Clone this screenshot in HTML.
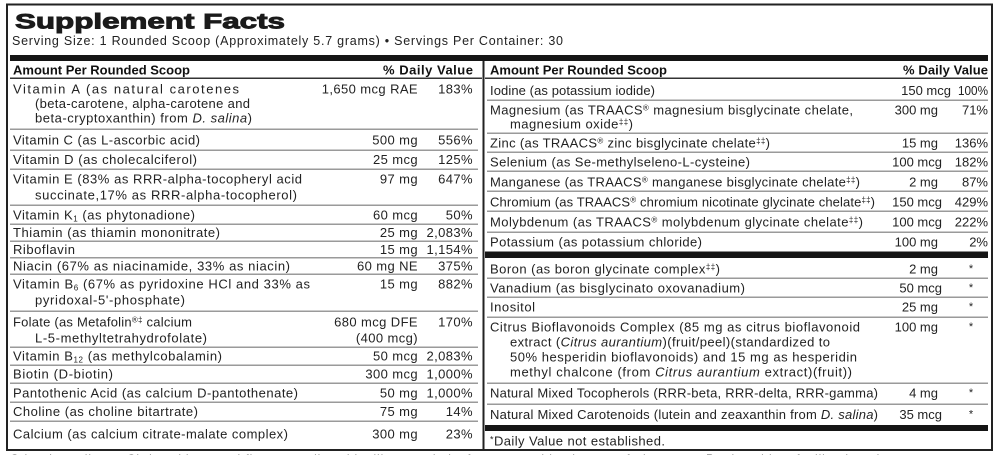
<!DOCTYPE html>
<html><head><meta charset="utf-8"><style>
html,body{margin:0;padding:0;background:#fff;width:1000px;height:455px;overflow:hidden}
svg{display:block}
text{font-family:"Liberation Sans",Arial,sans-serif;fill:#222;font-size:13px}
.b{font-weight:bold;fill:#111}
.n{letter-spacing:0.4px}
.r{letter-spacing:0px}
.st{font-size:11px}
</style></head><body>
<svg width="1000" height="455" viewBox="0 0 1000 455" xmlns="http://www.w3.org/2000/svg">
<rect x="0" y="0" width="1000" height="455" fill="#fff"/>
<!-- outer border -->
<rect x="7" y="4.5" width="985" height="445.5" fill="none" stroke="#222" stroke-width="2"/>
<!-- title -->
<text x="15" y="28.5" style="font-size:21px;font-weight:bold;fill:#1a1a1a" stroke="#1a1a1a" stroke-width="0.9" textLength="270" lengthAdjust="spacingAndGlyphs">Supplement Facts</text>
<text x="12" y="45" style="font-size:12.5px" textLength="551">Serving Size: 1 Rounded Scoop (Approximately 5.7 grams) • Servings Per Container: 30</text>
<!-- thick bar -->
<rect x="10" y="55" width="978" height="6" fill="#151515"/>
<!-- divider -->
<rect x="482.5" y="61" width="2" height="389" fill="#222"/>
<!-- header -->
<text class="b" x="13" y="74.5" textLength="177">Amount Per Rounded Scoop</text>
<text class="b" x="473" y="74.5" text-anchor="end" textLength="90">% Daily Value</text>
<text class="b" x="490" y="74.5" textLength="177">Amount Per Rounded Scoop</text>
<text class="b" x="988" y="74.5" text-anchor="end" textLength="85">% Daily Value</text>
<rect x="10" y="77.5" width="472" height="1.5" fill="#333"/>
<rect x="485" y="77.5" width="503" height="1.5" fill="#333"/>
<!-- left separators -->
<g fill="#9a9a9a">
<rect x="10" y="128.5" width="468" height="1.5"/>
<rect x="10" y="149.5" width="468" height="1.5"/>
<rect x="10" y="168.5" width="468" height="1.5"/>
<rect x="10" y="204.5" width="468" height="1.5"/>
<rect x="10" y="223.5" width="468" height="1.5"/>
<rect x="10" y="240.5" width="468" height="1.5"/>
<rect x="10" y="257" width="468" height="1.5"/>
<rect x="10" y="273.5" width="468" height="1.5"/>
<rect x="10" y="310.5" width="468" height="1.5"/>
<rect x="10" y="346.5" width="468" height="1.5"/>
<rect x="10" y="364.5" width="468" height="1.5"/>
<rect x="10" y="382.5" width="468" height="1.5"/>
<rect x="10" y="401.5" width="468" height="1.5"/>
<rect x="10" y="420.5" width="468" height="1.5"/>
<!-- right separators -->
<rect x="487" y="99.5" width="501" height="1.5"/>
<rect x="487" y="132.5" width="501" height="1.5"/>
<rect x="487" y="151.5" width="501" height="1.5"/>
<rect x="487" y="170.5" width="501" height="1.5"/>
<rect x="487" y="190.5" width="501" height="1.5"/>
<rect x="487" y="210.5" width="501" height="1.5"/>
<rect x="487" y="231.5" width="501" height="1.5"/>
<rect x="487" y="277.5" width="501" height="1.5"/>
<rect x="487" y="296.5" width="501" height="1.5"/>
<rect x="487" y="316.5" width="501" height="1.5"/>
<rect x="487" y="382.5" width="501" height="1.5"/>
<rect x="487" y="403.5" width="501" height="1.5"/>
</g>
<!-- right thick bars -->
<rect x="485" y="251.5" width="503" height="6.5" fill="#151515"/>
<rect x="485" y="425" width="503" height="6" fill="#151515"/>

<!-- LEFT COLUMN -->
<text x="13" y="93.5" textLength="226">Vitamin A (as natural carotenes</text>
<text class="n" x="418" y="93.5" text-anchor="end">1,650 mcg RAE</text>
<text class="n" x="473" y="93.5" text-anchor="end">183%</text>
<text x="35" y="108" textLength="215">(beta-carotene, alpha-carotene and</text>
<text x="35" y="122.5" textLength="217">beta-cryptoxanthin) from <tspan font-style="italic">D. salina</tspan>)</text>

<text x="13" y="144.5" textLength="187">Vitamin C (as L-ascorbic acid)</text>
<text class="n" x="418" y="144.5" text-anchor="end">500 mg</text>
<text class="n" x="473" y="144.5" text-anchor="end">556%</text>

<text x="13" y="164" textLength="184">Vitamin D (as cholecalciferol)</text>
<text class="n" x="418" y="164" text-anchor="end">25 mcg</text>
<text class="n" x="473" y="164" text-anchor="end">125%</text>

<text x="13" y="183.5" textLength="289">Vitamin E (83% as RRR-alpha-tocopheryl acid</text>
<text class="n" x="418" y="183.5" text-anchor="end">97 mg</text>
<text class="n" x="473" y="183.5" text-anchor="end">647%</text>
<text x="35" y="199.5" textLength="262">succinate,17% as RRR-alpha-tocopherol)</text>

<text x="13" y="219.5" textLength="182">Vitamin K<tspan font-size="8" dy="2">1</tspan><tspan dy="-2"> (as phytonadione)</tspan></text>
<text class="n" x="418" y="219.5" text-anchor="end">60 mcg</text>
<text class="n" x="473" y="219.5" text-anchor="end">50%</text>

<text x="13" y="237" textLength="207">Thiamin (as thiamin mononitrate)</text>
<text class="n" x="418" y="237" text-anchor="end">25 mg</text>
<text class="n" x="473" y="237" text-anchor="end">2,083%</text>

<text x="13" y="254" textLength="62">Riboflavin</text>
<text class="n" x="418" y="254" text-anchor="end">15 mg</text>
<text class="n" x="473" y="254" text-anchor="end">1,154%</text>

<text x="13" y="270.5" textLength="277">Niacin (67% as niacinamide, 33% as niacin)</text>
<text class="n" x="418" y="270.5" text-anchor="end">60 mg NE</text>
<text class="n" x="473" y="270.5" text-anchor="end">375%</text>

<text x="13" y="288.5" textLength="297">Vitamin B<tspan font-size="8" dy="2">6</tspan><tspan dy="-2"> (67% as pyridoxine HCl and 33% as</tspan></text>
<text class="n" x="418" y="288.5" text-anchor="end">15 mg</text>
<text class="n" x="473" y="288.5" text-anchor="end">882%</text>
<text x="35" y="304.5" textLength="150">pyridoxal-5'-phosphate)</text>

<text x="13" y="326.5" textLength="179">Folate (as Metafolin<tspan font-size="8" dy="-4">®‡</tspan><tspan dy="4"> calcium</tspan></text>
<text class="n" x="418" y="326.5" text-anchor="end">680 mcg DFE</text>
<text class="n" x="473" y="326.5" text-anchor="end">170%</text>
<text x="35" y="342.5" textLength="172">L-5-methyltetrahydrofolate)</text>
<text class="n" x="418" y="342.5" text-anchor="end">(400 mcg)</text>

<text x="13" y="360.5" textLength="209">Vitamin B<tspan font-size="8" dy="2">12</tspan><tspan dy="-2"> (as methylcobalamin)</tspan></text>
<text class="n" x="418" y="360.5" text-anchor="end">50 mcg</text>
<text class="n" x="473" y="360.5" text-anchor="end">2,083%</text>

<text x="13" y="378.5" textLength="100">Biotin (D-biotin)</text>
<text class="n" x="418" y="378.5" text-anchor="end">300 mcg</text>
<text class="n" x="473" y="378.5" text-anchor="end">1,000%</text>

<text x="13" y="397.5" textLength="285">Pantothenic Acid (as calcium D-pantothenate)</text>
<text class="n" x="418" y="397.5" text-anchor="end">50 mg</text>
<text class="n" x="473" y="397.5" text-anchor="end">1,000%</text>

<text x="13" y="416" textLength="185">Choline (as choline bitartrate)</text>
<text class="n" x="418" y="416" text-anchor="end">75 mg</text>
<text class="n" x="473" y="416" text-anchor="end">14%</text>

<text x="13" y="438.5" textLength="275">Calcium (as calcium citrate-malate complex)</text>
<text class="n" x="418" y="438.5" text-anchor="end">300 mg</text>
<text class="n" x="473" y="438.5" text-anchor="end">23%</text>

<!-- RIGHT COLUMN -->
<text x="490" y="95" textLength="165">Iodine (as potassium iodide)</text>
<text class="r" x="951" y="95" text-anchor="end">150 mcg</text>
<text class="r" x="958" y="95" textLength="30" lengthAdjust="spacingAndGlyphs">100%</text>

<text x="490" y="114.5" textLength="363">Magnesium (as TRAACS<tspan font-size="8" dy="-4">®</tspan><tspan dy="4"> magnesium bisglycinate chelate,</tspan></text>
<text x="510" y="128.5" textLength="123">magnesium oxide<tspan font-size="8" dy="-4">‡‡</tspan><tspan dy="4">)</tspan></text>
<text class="r" x="938" y="114.5" text-anchor="end">300 mg</text>
<text class="r" x="988" y="114.5" text-anchor="end">71%</text>

<text x="490" y="147.5" textLength="280">Zinc (as TRAACS<tspan font-size="8" dy="-4">®</tspan><tspan dy="4"> zinc bisglycinate chelate</tspan><tspan font-size="8" dy="-4">‡‡</tspan><tspan dy="4">)</tspan></text>
<text class="r" x="938" y="147.5" text-anchor="end">15 mg</text>
<text class="r" x="988" y="147.5" text-anchor="end">136%</text>

<text x="490" y="166.5" textLength="260">Selenium (as Se-methylseleno-L-cysteine)</text>
<text class="r" x="942" y="166.5" text-anchor="end">100 mcg</text>
<text class="r" x="988" y="166.5" text-anchor="end">182%</text>

<text x="490" y="186.5" textLength="370">Manganese (as TRAACS<tspan font-size="8" dy="-4">®</tspan><tspan dy="4"> manganese bisglycinate chelate</tspan><tspan font-size="8" dy="-4">‡‡</tspan><tspan dy="4">)</tspan></text>
<text class="r" x="938" y="186.5" text-anchor="end">2 mg</text>
<text class="r" x="988" y="186.5" text-anchor="end">87%</text>

<text x="490" y="206.5" textLength="385">Chromium (as TRAACS<tspan font-size="8" dy="-4">®</tspan><tspan dy="4"> chromium nicotinate glycinate chelate</tspan><tspan font-size="8" dy="-4">‡‡</tspan><tspan dy="4">)</tspan></text>
<text class="r" x="942" y="206.5" text-anchor="end">150 mcg</text>
<text class="r" x="988" y="206.5" text-anchor="end">429%</text>

<text x="490" y="226.5" textLength="373">Molybdenum (as TRAACS<tspan font-size="8" dy="-4">®</tspan><tspan dy="4"> molybdenum glycinate chelate</tspan><tspan font-size="8" dy="-4">‡‡</tspan><tspan dy="4">)</tspan></text>
<text class="r" x="942" y="226.5" text-anchor="end">100 mcg</text>
<text class="r" x="988" y="226.5" text-anchor="end">222%</text>

<text x="490" y="246.5" textLength="212">Potassium (as potassium chloride)</text>
<text class="r" x="938" y="246.5" text-anchor="end">100 mg</text>
<text class="r" x="988" y="246.5" text-anchor="end">2%</text>

<text x="490" y="273.5" textLength="230">Boron (as boron glycinate complex<tspan font-size="8" dy="-4">‡‡</tspan><tspan dy="4">)</tspan></text>
<text class="r" x="938" y="273.5" text-anchor="end">2 mg</text>
<text class="st" x="971" y="272" text-anchor="middle">*</text>

<text x="490" y="292.5" textLength="255">Vanadium (as bisglycinato oxovanadium)</text>
<text class="r" x="942" y="292.5" text-anchor="end">50 mcg</text>
<text class="st" x="971" y="291" text-anchor="middle">*</text>

<text x="490" y="311.5" textLength="45">Inositol</text>
<text class="r" x="938" y="311.5" text-anchor="end">25 mg</text>
<text class="st" x="971" y="310" text-anchor="middle">*</text>

<text x="490" y="331.5" textLength="370">Citrus Bioflavonoids Complex (85 mg as citrus bioflavonoid</text>
<text class="r" x="938" y="331.5" text-anchor="end">100 mg</text>
<text class="st" x="971" y="330" text-anchor="middle">*</text>
<text x="510" y="346.5" textLength="320">extract (<tspan font-style="italic">Citrus aurantium</tspan>)(fruit/peel)(standardized to</text>
<text x="510" y="361.5" textLength="347">50% hesperidin bioflavonoids) and 15 mg as hesperidin</text>
<text x="510" y="376.5" textLength="342">methyl chalcone (from <tspan font-style="italic">Citrus aurantium</tspan> extract)(fruit))</text>

<text x="490" y="397.5" textLength="388">Natural Mixed Tocopherols (RRR-beta, RRR-delta, RRR-gamma)</text>
<text class="r" x="938" y="397.5" text-anchor="end">4 mg</text>
<text class="st" x="971" y="396" text-anchor="middle">*</text>

<text x="490" y="419" textLength="388">Natural Mixed Carotenoids (lutein and zeaxanthin from <tspan font-style="italic">D. salina</tspan>)</text>
<text class="r" x="942" y="419" text-anchor="end">35 mcg</text>
<text class="st" x="971" y="417.5" text-anchor="middle">*</text>

<text x="490" y="445.5" textLength="175"><tspan font-size="9" dy="-3">*</tspan><tspan dy="3">Daily Value not established.</tspan></text>

<!-- cut-off text below the panel -->
<text x="10" y="463" style="font-size:12px;fill:#555" textLength="980">Other Ingredients: Citric acid, natural flavors, malic acid, silica, stevia leaf extract and luo han guo fruit extract. Produced in a facility that also processes soy.</text>
</svg>
</body></html>
